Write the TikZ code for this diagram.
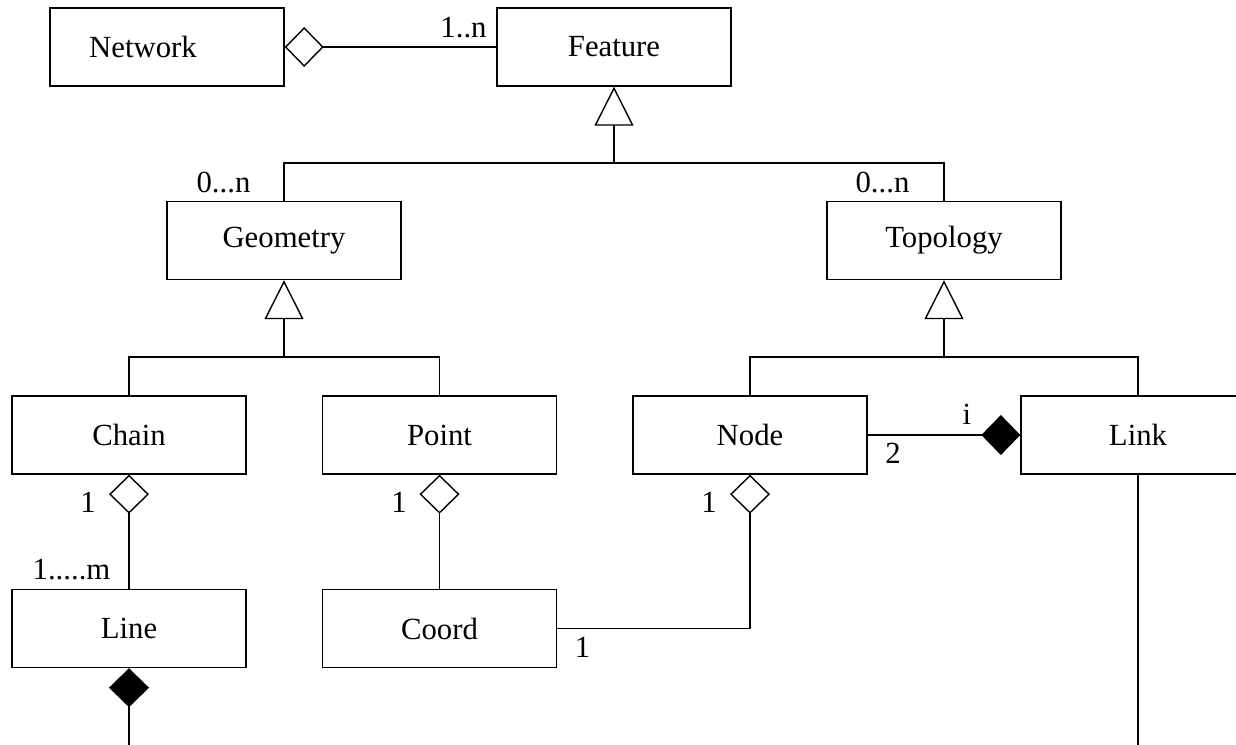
\documentclass[tikz,border=0pt]{standalone}
\usepackage{fontspec}
\setmainfont{Liberation Serif}
\usepackage{xcolor}
\definecolor{umlink}{HTML}{000000}
\usepackage{tikz}
\usetikzlibrary{arrows.meta}
\newcommand{\umlfont}{\fontsize{17.5pt}{20pt}\selectfont}
\tikzset{
  umlclass/.style={rectangle, draw=umlink, fill=white, line width=0.8pt,
                   minimum width=4.68cm, minimum height=1.56cm, inner sep=0pt,
                   font=\umlfont, text=umlink},
  umlline/.style ={draw=umlink, line width=0.8pt},
  umlagg/.style  ={umlline, -{Diamond[open, length=0.78cm, width=0.8cm]}},
  umlcomp/.style ={umlline, -{Diamond[length=0.78cm, width=0.8cm]}},
  umlcompr/.style={umlline, {Diamond[length=0.78cm, width=0.8cm]}-},
  umlgen/.style  ={umlline, -{Triangle[open, length=0.78cm, width=0.78cm]}},
  umlmult/.style ={anchor=base, inner sep=0pt, font=\umlfont, text=umlink},
}

\begin{document}
\begin{tikzpicture}[x=0.02cm, y=-0.02cm]
  \useasboundingbox (0,0) rectangle (1236,744);
  % classes
  \node[umlclass] (net) at (167,47) {Network\kern0.96cm};
  \foreach \n/\t/\x/\y in {feat/Feature/614/47, geo/Geometry/284/240.5,
      topo/Topology/944/240.5, chain/Chain/129/435, pt/Point/439.5/435,
      nd/Node/750/435, lnk/Link/1138/435, ln/Line/129/628.5, crd/Coord/439.5/628.5}{
    \node[umlclass] (\n) at (\x,\y) {\t};
  }
  % generalisation
  \coordinate (fj) at (614,163);
  \draw[umlline] (geo.north) |- (fj) -| (topo.north);
  \draw[umlgen] (fj) -- (feat.south);
  \coordinate (gj) at (284,357);
  \draw[umlline] (chain.north) |- (gj) -| (pt.north);
  \draw[umlgen] (gj) -- (geo.south);
  \coordinate (tj) at (944,357);
  \draw[umlline] (nd.north) |- (tj) -| (lnk.north);
  \draw[umlgen] (tj) -- (topo.south);
  % aggregation and composition
  \draw[umlagg] (feat.west) -- (net.east);
  \draw[umlagg] (ln.north) -- (chain.south);
  \draw[umlagg] (crd.north) -- (pt.south);
  \draw[umlagg] (crd.east) -| (nd.south);
  \draw[umlcomp] (nd.east) -- (lnk.west);
  \coordinate (lnend) at (129,750);
  \coordinate (lkend) at (1138,750);
  \draw[umlcompr] (ln.south) -- (lnend);
  \draw[umlline] (lnk.south) -- (lkend);
  % multiplicities
  \node[umlmult] (m1) at (463.5,37) {1..n};
  \node[umlmult] (m2) at (223.5,192) {0...n};
  \node[umlmult] (m3) at (882.5,192) {0...n};
  \node[umlmult] (m4) at (88,512) {1};
  \node[umlmult] (m5) at (71.5,579) {1.....m};
  \node[umlmult] (m6) at (399,512) {1};
  \node[umlmult] (m7) at (709,512) {1};
  \node[umlmult] (m8) at (582.5,657) {1};
  \node[umlmult] (m9) at (893,463) {2};
  \node[umlmult] (m10) at (967,424) {i};
\end{tikzpicture}
\end{document}
